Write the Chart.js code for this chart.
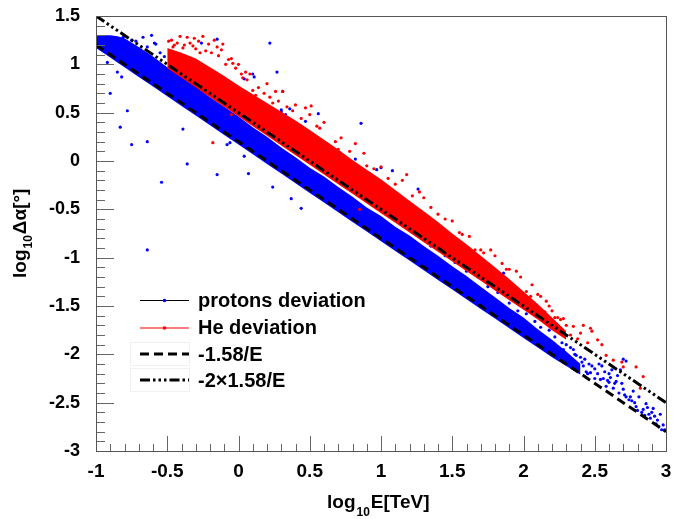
<!DOCTYPE html>
<html><head><meta charset="utf-8">
<script src="https://cdn.jsdelivr.net/npm/chart.js@4.4.0/dist/chart.umd.min.js"></script>
<style>html,body{margin:0;padding:0;background:#fff;}#wrap{width:673px;height:519px;}</style>
</head><body><div id="wrap"><canvas id="c" width="673" height="519"></canvas></div>
<script>
// ---- tick labels ----
const xTickValues = [-1, -0.5, 0, 0.5, 1, 1.5, 2, 2.5, 3];
const xTickLabels = ['-1', '-0.5', '0', '0.5', '1', '1.5', '2', '2.5', '3'];
const yTickValues = [-3, -2.5, -2, -1.5, -1, -0.5, 0, 0.5, 1, 1.5];
const yTickLabels = ['-3', '-2.5', '-2', '-1.5', '-1', '-0.5', '0', '0.5', '1', '1.5'];

// ---- dense proton band (edges) ----
const protonBandX     = [-1, -0.95, -0.9, -0.85, -0.8, -0.7, -0.6, -0.5, -0.4, -0.3, -0.2, -0.1, 0, 0.1, 0.2, 0.3, 0.4, 0.5, 0.6, 0.7, 0.8, 0.9, 1.0, 1.1, 1.2, 1.3, 1.4, 1.5, 1.6, 1.7, 1.8, 1.9, 2.0, 2.1, 2.2, 2.3, 2.4];
const protonBandUpper = [1.29, 1.30, 1.30, 1.29, 1.27, 1.18, 1.08, 0.97, 0.87, 0.77, 0.66, 0.56, 0.46, 0.35, 0.25, 0.14, 0.04, -0.07, -0.16, -0.27, -0.37, -0.48, -0.57, -0.68, -0.77, -0.88, -0.98, -1.09, -1.19, -1.30, -1.41, -1.52, -1.62, -1.74, -1.85, -1.97, -2.10];
const protonBandLower = [1.17, 1.12, 1.07, 1.02, 0.97, 0.87, 0.77, 0.67, 0.57, 0.47, 0.37, 0.27, 0.17, 0.07, -0.03, -0.13, -0.23, -0.33, -0.43, -0.53, -0.63, -0.73, -0.83, -0.93, -1.03, -1.13, -1.23, -1.33, -1.43, -1.53, -1.63, -1.73, -1.83, -1.93, -2.03, -2.12, -2.21];

// ---- dense He band ----
const heBandX     = [-0.5, -0.4, -0.3, -0.2, -0.1, 0, 0.1, 0.2, 0.3, 0.4, 0.5, 0.6, 0.7, 0.8, 0.9, 1.0, 1.1, 1.2, 1.3, 1.4, 1.5, 1.6, 1.7, 1.8, 1.9, 2.0, 2.1, 2.2, 2.3];
const heBandUpper = [1.17, 1.12, 1.06, 0.97, 0.88, 0.78, 0.69, 0.60, 0.51, 0.42, 0.32, 0.22, 0.12, 0.01, -0.09, -0.19, -0.30, -0.41, -0.52, -0.63, -0.75, -0.86, -0.98, -1.10, -1.22, -1.35, -1.48, -1.62, -1.76];
const heBandLower = [0.96, 0.86, 0.76, 0.66, 0.56, 0.46, 0.36, 0.26, 0.16, 0.06, -0.04, -0.14, -0.24, -0.34, -0.44, -0.54, -0.64, -0.74, -0.84, -0.94, -1.04, -1.14, -1.24, -1.34, -1.44, -1.54, -1.64, -1.75, -1.85];

// ---- sparse proton points (outliers / tail) ----
const protonPoints = [
 [-0.90,0.70],[-0.78,0.52],[-0.83,0.35],[-0.75,0.17],[-0.64,0.20],[-0.54,-0.22],[-0.39,0.33],[-0.36,-0.03],
 [-0.15,-0.14],[-0.08,0.17],[-0.06,0.19],[0.04,0.05],[0.07,-0.13],[0.24,-0.27],[-0.64,-0.92],[0.37,-0.39],[0.44,-0.49],
 [-0.85,0.92],[-0.82,0.87],[-0.92,1.02],[-0.75,1.25],[-0.67,1.28],[-0.61,1.30],[-0.59,1.22],[-0.64,1.18],
 [-0.81,1.28],[-0.72,1.24],[-0.55,1.12],[-0.52,1.08],
 [0.22,1.22],[0.27,0.92],[0.10,0.90],[0.11,0.87],[0.04,0.85],[-0.15,1.26],[-0.26,1.22],[-0.58,1.21],
 [0.31,0.72],[0.30,0.53],[0.86,0.39],[0.97,-0.09],[1.00,-0.07],[1.08,-0.10],[0.92,-0.13],[1.26,-0.29],
 [0.82,0.02],[0.56,0.49],[0.33,0.48],[0.36,0.54],[0.44,0.36],[0.47,0.41],[0.30,0.51],[1.86,-1.16],
 [1.35,-0.88],[1.45,-0.98],[1.52,-1.05],[1.60,-1.14],[1.68,-1.20],[1.75,-1.30],[1.82,-1.36],[1.90,-1.47],
 [1.96,-1.55],[2.02,-1.58],[2.08,-1.66],[2.12,-1.72],[2.18,-1.75],[2.22,-1.82],[2.27,-1.88],[2.30,-1.90],
 [2.33,-1.93],[2.36,-2.00],[2.40,-2.03],[2.42,-2.12],[2.44,-2.18],[2.46,-2.10],
 [2.28,-1.95],[2.32,-2.05],[2.38,-2.12],[2.43,-2.05],[2.45,-2.20],[2.48,-2.12],[2.50,-2.25],[2.53,-2.10],
 [2.57,-2.18],[2.59,-2.27],[2.61,-2.24],[2.64,-2.30],[2.69,-2.30],[2.71,-2.42],[2.75,-2.44],[2.78,-2.50],
 [2.80,-2.58],[2.85,-2.63],[2.89,-2.66],[2.93,-2.72],[2.97,-2.78],[2.90,-2.60],[2.87,-2.55],
 [2.35,-1.95],[2.37,-2.01],[2.41,-2.08],[2.47,-2.19],[2.50,-2.15],[2.52,-2.20],[2.54,-2.26],[2.55,-2.12],
 [2.56,-2.25],[2.58,-2.33],[2.60,-2.20],[2.60,-2.29],[2.62,-2.16],[2.63,-2.35],[2.65,-2.28],[2.66,-2.22],
 [2.67,-2.40],[2.68,-2.16],[2.70,-2.05],[2.70,-2.36],[2.72,-2.07],[2.72,-2.44],[2.74,-2.47],[2.76,-2.48],
 [2.77,-2.38],[2.79,-2.54],[2.81,-2.44],[2.83,-2.60],[2.84,-2.57],[2.86,-2.51],[2.88,-2.62],[2.91,-2.56],
 [2.92,-2.64],[2.94,-2.68],[2.95,-2.75],[2.96,-2.62],[2.98,-2.73],[2.99,-2.78]
];

// ---- sparse He points ----
const hePoints = [
 [-0.49,1.24],[-0.46,1.18],[-0.45,1.20],[-0.43,1.22],[-0.41,1.29],[-0.39,1.17],[-0.36,1.28],[-0.34,1.22],
 [-0.32,1.19],[-0.30,1.16],[-0.28,1.24],[-0.25,1.29],[-0.23,1.14],[-0.21,1.21],[-0.19,1.12],[-0.17,1.25],
 [-0.14,1.09],[-0.12,1.15],[-0.11,1.21],[-0.07,1.05],[-0.04,1.01],[-0.02,0.96],[0.00,1.00],[0.02,0.90],
 [0.05,0.92],[0.06,0.84],[0.10,0.73],[0.12,0.68],[0.18,0.70],[0.31,0.72],[-0.18,0.19],[-0.05,0.48],
 [0.24,0.60],[0.28,0.62],[0.38,0.52],[0.51,0.57],[0.50,0.48],[0.57,0.34],[0.62,0.18],[0.65,0.08],
 [0.70,0.12],[0.76,-0.01],[0.82,0.18],[0.90,-0.05],[1.05,-0.18],[1.18,-0.14],[1.27,-0.32],[1.35,-0.48],
 [1.45,-0.60],[0.85,-0.50],[1.57,-0.76],[1.66,-0.92],[1.72,-0.95],[1.77,-0.92],[1.85,-1.06],[1.90,-1.12],
 [1.95,-1.14],[2.02,-1.35],[2.06,-1.28],[2.12,-1.40],[2.16,-1.45],[2.20,-1.55],[2.22,-1.62],[2.25,-1.72],
 [2.26,-1.64],[2.28,-1.63],[2.30,-1.70],[2.33,-1.80],[2.35,-1.71],[2.38,-1.84],[2.40,-1.78],[2.42,-1.70],
 [2.45,-1.88],[2.47,-1.73],[2.48,-1.76],[2.52,-1.85],[2.55,-1.90],[2.58,-2.01],[2.63,-2.06],[2.69,-2.08],
 [2.70,-2.13],[2.79,-2.13],[2.82,-2.35],[2.84,-2.23],
 [-0.47,1.25],[-0.38,1.20],[-0.31,1.27],[-0.27,1.12],[-0.15,1.18],[-0.09,1.00],[-0.05,1.06],[0.03,0.86],
 [0.08,0.90],[0.14,0.76],[0.20,0.80],[0.22,0.66],[0.26,0.72],[0.34,0.56],[0.40,0.58],[0.44,0.44],
 [0.47,0.55],[0.55,0.36],[0.60,0.40],[0.68,0.20],[0.72,0.24],[0.78,0.10],[0.88,0.08],[0.95,-0.08],
 [1.00,-0.06],[1.10,-0.24],[1.15,-0.20],[1.22,-0.36],[1.30,-0.38],[1.40,-0.55],[1.50,-0.62],[1.55,-0.74],
 [1.62,-0.78],[1.70,-0.92],[1.80,-0.98],[1.88,-1.12],[1.98,-1.20],[2.05,-1.40],[2.10,-1.38],[2.15,-1.56],
 [2.18,-1.50],[2.24,-1.62]
];

// ---- reference lines ----
const refLineX = [-1, 3];
const refLineSingle = [1.2, -2.8];  // -1.58/E
const refLineDouble = [1.5, -2.5];  // -2x1.58/E

const legendLabels = ['protons deviation', 'He deviation', '-1.58/E', '-2\u00d71.58/E'];

const BLUE = '#0000ff', RED = '#ff0000';
const FONT = '"Liberation Sans", Arial, Helvetica, sans-serif';
const DASH1 = [9, 5];
const DASH2 = [10, 3, 2.5, 3, 2.5, 3, 2.5, 3];

const toXY = (xs, ys) => xs.map((x, i) => ({x: x, y: ys[i]}));
const pairs = (arr) => arr.map(p => ({x: p[0], y: p[1]}));

const deco = {
  id: 'rootDeco',
  afterDraw(chart) {
    const ctx = chart.ctx, a = chart.chartArea, xs = chart.scales.x, ys = chart.scales.y;
    ctx.save();
    ctx.strokeStyle = '#666'; ctx.lineWidth = 1;
    ctx.beginPath();
    for (let k = -30; k <= 15; k++) {
      const py = Math.round(ys.getPixelForValue(k / 10)) + 0.5;
      const len = (k % 5 === 0) ? 18 : 9;
      ctx.moveTo(a.left, py); ctx.lineTo(a.left + len, py);
    }
    for (let k = -10; k <= 30; k++) {
      const px = Math.round(xs.getPixelForValue(k / 10)) + 0.5;
      const len = (k % 5 === 0) ? 15 : 7;
      ctx.moveTo(px, a.bottom); ctx.lineTo(px, a.bottom - len);
    }
    ctx.stroke();
    ctx.strokeStyle = '#555';
    ctx.strokeRect(Math.round(a.left) + 0.5, Math.round(a.top) + 0.5, Math.round(a.right - a.left), Math.round(a.bottom - a.top));

    // legend
    const lx0 = 140, lx1 = 189, tx = 198;
    const rows = [300, 327.5, 354, 380];
    ctx.textBaseline = 'middle'; ctx.textAlign = 'left';
    ctx.setLineDash([]); ctx.lineWidth = 1; ctx.strokeStyle = '#000';
    ctx.beginPath(); ctx.moveTo(lx0, rows[0] + 0.5); ctx.lineTo(lx1, rows[0] + 0.5); ctx.stroke();
    ctx.fillStyle = BLUE; ctx.beginPath(); ctx.arc((lx0 + lx1) / 2, rows[0] + 0.5, 1.8, 0, 2 * Math.PI); ctx.fill();
    ctx.strokeStyle = '#ff5050'; ctx.lineWidth = 1.5;
    ctx.beginPath(); ctx.moveTo(lx0, rows[1] + 0.5); ctx.lineTo(lx1, rows[1] + 0.5); ctx.stroke();
    ctx.fillStyle = RED; ctx.beginPath(); ctx.arc((lx0 + lx1) / 2, rows[1] + 0.5, 1.8, 0, 2 * Math.PI); ctx.fill();
    ctx.strokeStyle = '#f0f0f0'; ctx.lineWidth = 1;
    ctx.strokeRect(130.5, rows[2] - 11.5, 59, 23);
    ctx.strokeRect(130.5, rows[3] - 11.5, 59, 23);
    ctx.strokeStyle = '#000'; ctx.lineWidth = 3;
    ctx.setLineDash(DASH1);
    ctx.beginPath(); ctx.moveTo(lx0, rows[2]); ctx.lineTo(lx1, rows[2]); ctx.stroke();
    ctx.setLineDash(DASH2);
    ctx.beginPath(); ctx.moveTo(lx0, rows[3]); ctx.lineTo(lx1, rows[3]); ctx.stroke();
    ctx.setLineDash([]);
    ctx.fillStyle = '#000';
    ctx.font = 'bold 20px ' + FONT;
    legendLabels.forEach((t, i) => ctx.fillText(t, tx, rows[i] + 1));

    // x title
    ctx.textBaseline = 'alphabetic';
    let x = 327;
    ctx.font = 'bold 19px ' + FONT; ctx.fillText('log', x, 508); x += ctx.measureText('log').width + 1;
    ctx.font = 'bold 12px ' + FONT; ctx.fillText('10', x, 516); x += ctx.measureText('10').width + 1;
    ctx.font = 'bold 19px ' + FONT; ctx.fillText('E[TeV]', x, 508);

    // y title
    ctx.save();
    ctx.translate(26, 278); ctx.rotate(-Math.PI / 2);
    let y = 0;
    ctx.font = 'bold 19px ' + FONT; ctx.fillText('log', y, 0); y += ctx.measureText('log').width + 1;
    ctx.font = 'bold 12px ' + FONT; ctx.fillText('10', y, 6); y += ctx.measureText('10').width + 1;
    ctx.font = 'bold 19px ' + FONT; ctx.fillText('\u0394\u03b1[\u00b0]', y, 0);
    ctx.restore();
    ctx.restore();
  }
};

const lineDS = (label, data, extra) => Object.assign({
  label: label, type: 'line', data: data, pointRadius: 0, borderWidth: 0,
  borderColor: 'rgba(0,0,0,0)', fill: false, tension: 0
}, extra);

new Chart(document.getElementById('c'), {
  type: 'line',
  data: {
    datasets: [
      lineDS('-2x1.58/E', toXY(refLineX, refLineDouble), {borderColor: '#000', borderWidth: 3, borderDash: DASH2, order: 0}),
      lineDS('-1.58/E', toXY(refLineX, refLineSingle), {borderColor: '#000', borderWidth: 3, borderDash: DASH1, order: 0}),
      lineDS('He points', pairs(hePoints), {showLine: false, pointRadius: 1.6, pointBackgroundColor: RED, pointBorderWidth: 0, order: 1}),
      lineDS('He upper', toXY(heBandX, heBandUpper), {fill: '+1', backgroundColor: RED, order: 2}),
      lineDS('He lower', toXY(heBandX, heBandLower), {order: 2}),
      lineDS('protons points', pairs(protonPoints), {showLine: false, pointRadius: 1.6, pointBackgroundColor: BLUE, pointBorderWidth: 0, order: 3}),
      lineDS('protons upper', toXY(protonBandX, protonBandUpper), {fill: '+1', backgroundColor: BLUE, order: 4}),
      lineDS('protons lower', toXY(protonBandX, protonBandLower), {order: 4})
    ]
  },
  options: {
    responsive: false, animation: false, devicePixelRatio: 1,
    layout: {padding: {top: 16, right: 7, left: 0, bottom: 0}},
    plugins: {legend: {display: false}, tooltip: {enabled: false}},
    scales: {
      x: {
        type: 'linear', min: -1, max: 3, position: 'bottom',
        afterFit: s => { s.height = 68; s.paddingLeft = 0; s.paddingRight = 0; },
        afterBuildTicks: s => { s.ticks = xTickValues.map(v => ({value: v})); },
        grid: {display: false, drawTicks: false}, border: {display: false},
        ticks: {autoSkip: false, maxRotation: 0, padding: 9, color: '#000',
          font: {family: FONT, size: 19, weight: 'bold'},
          callback: (v, i) => xTickLabels[i]}
      },
      y: {
        type: 'linear', min: -3, max: 1.5,
        afterFit: s => { s.width = 96; s.paddingTop = 0; s.paddingBottom = 0; },
        afterBuildTicks: s => { s.ticks = yTickValues.map(v => ({value: v})); },
        grid: {display: false, drawTicks: false}, border: {display: false},
        ticks: {autoSkip: false, padding: 16, color: '#000',
          font: {family: FONT, size: 18, weight: 'bold'},
          callback: (v, i) => yTickLabels[i]}
      }
    }
  },
  plugins: [deco]
});
</script></body></html>
